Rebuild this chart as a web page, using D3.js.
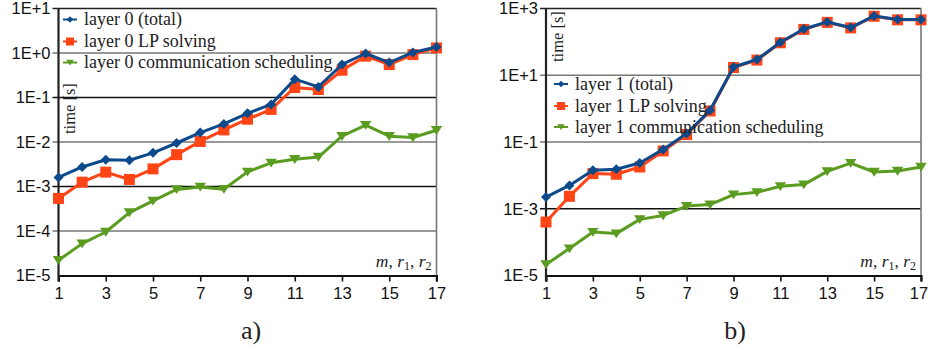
<!DOCTYPE html>
<html>
<head>
<meta charset="utf-8">
<script src="https://cdn.jsdelivr.net/npm/d3@7"></script>
<style>
  html, body { margin: 0; padding: 0; background: #fff; }
  svg { display: block; }
</style>
</head>
<body>
<svg id="chart" width="928" height="350"></svg>
<script>
// Problem size index (m, r1, r2 configurations)
const steps = d3.range(1, 18);
const xTicks = [1, 3, 5, 7, 9, 11, 13, 15, 17];

// Panel a) layer 0 timings [s]
const layer0Total = [1.6e-3, 2.75e-3, 4.0e-3, 3.9e-3, 5.7e-3, 9.5e-3, 1.63e-2, 2.55e-2, 4.4e-2, 7.0e-2, 0.258, 0.173, 0.552, 0.975, 0.61, 1.03, 1.37];
const layer0LP = [5.4e-4, 1.25e-3, 2.1e-3, 1.44e-3, 2.49e-3, 5.2e-3, 1.03e-2, 1.87e-2, 3.25e-2, 5.4e-2, 0.168, 0.151, 0.41, 0.85, 0.55, 0.92, 1.30];
const layer0Comm = [2.2e-5, 5.2e-5, 9.5e-5, 2.6e-4, 4.75e-4, 8.6e-4, 9.8e-4, 8.7e-4, 2.13e-3, 3.4e-3, 4.1e-3, 4.6e-3, 1.35e-2, 2.39e-2, 1.35e-2, 1.26e-2, 1.84e-2];
const yTicks0 = [1e-5, 1e-4, 1e-3, 1e-2, 1e-1, 1e0, 1e1];
const yLabels0 = ["1E-5", "1E-4", "1E-3", "1E-2", "1E-1", "1E+0", "1E+1"];

// Panel b) layer 1 timings [s]
const layer1Total = [2.24e-3, 5.0e-3, 1.42e-2, 1.52e-2, 2.34e-2, 6.0e-2, 0.179, 0.89, 17.7, 29.6, 97.7, 244, 396, 269, 600, 468, 468];
const layer1LP = [4.0e-4, 2.36e-3, 1.13e-2, 1.08e-2, 1.78e-2, 5.4e-2, 0.167, 0.85, 17.0, 28.5, 94, 236, 385, 262, 585, 458, 458];
const layer1Comm = [2.15e-5, 6.4e-5, 2.0e-4, 1.8e-4, 4.8e-4, 6.3e-4, 1.2e-3, 1.33e-3, 2.65e-3, 3.1e-3, 4.7e-3, 5.3e-3, 1.32e-2, 2.34e-2, 1.26e-2, 1.35e-2, 1.78e-2];
const yTicks1 = [1e-5, 1e-3, 1e-1, 1e1, 1e3];
const yLabels1 = ["1E-5", "1E-3", "1E-1", "1E+1", "1E+3"];

const seriesNames0 = ["layer 0 (total)", "layer 0 LP solving", "layer 0 communication scheduling"];
const seriesNames1 = ["layer 1 (total)", "layer 1 LP solving", "layer 1 communication scheduling"];

const BLUE = "#0d4a8b", ORANGE = "#ff4416", GREEN = "#5a9c1f";
const SANS = "'Liberation Sans', Arial, sans-serif";
const SERIF = "'Liberation Serif', 'Times New Roman', serif";

const svg = d3.select("#chart");

// marker shapes
function markerPath(kind, s) {
  if (kind === "diamond") return `M0,${-s}L${s},0L0,${s}L${-s},0Z`;
  if (kind === "square") return `M${-s},${-s}H${s}V${s}H${-s}Z`;
  // downward triangle
  return `M${-s * 1.1},${-s * 0.8}H${s * 1.1}L0,${s * 0.9}Z`;
}

function drawPanel(cfg) {
  const g = svg.append("g");
  const x = d3.scaleLinear().domain([1, 17]).range([cfg.x0, cfg.x1]);
  const y = d3.scaleLog().domain([cfg.yTicks[0], cfg.yTicks[cfg.yTicks.length - 1]]).range([cfg.yb, cfg.yt]);

  // horizontal gridlines (extend slightly left as tick marks)
  cfg.yTicks.forEach((t, i) => {
    if (i === 0) return;
    g.append("line")
      .attr("x1", cfg.x0 - 6).attr("x2", cfg.x1)
      .attr("y1", y(t)).attr("y2", y(t))
      .attr("stroke", cfg.gridColors[i]).attr("stroke-width", 1.6);
  });

  // right border
  g.append("line")
    .attr("x1", cfg.x1).attr("x2", cfg.x1)
    .attr("y1", cfg.yt).attr("y2", cfg.yb + 6)
    .attr("stroke", "#777").attr("stroke-width", 1.6);

  // y tick labels
  g.selectAll("text.ylab").data(cfg.yTicks).join("text")
    .attr("x", cfg.x0 - 8).attr("y", d => y(d))
    .attr("dy", "0.36em").attr("text-anchor", "end")
    .attr("font-family", SANS).attr("font-size", 16.5).attr("fill", "#111")
    .text((d, i) => cfg.yLabels[i]);

  // bottom axis
  const xAxis = d3.axisBottom(x).tickValues(xTicks).tickSize(6).tickPadding(6).tickFormat(d3.format("d"));
  const ax = g.append("g").attr("transform", `translate(0,${cfg.yb})`).call(xAxis);
  ax.select(".domain").attr("stroke", "#111").attr("stroke-width", 2);
  ax.selectAll(".tick line").attr("stroke", "#111").attr("stroke-width", 1.6);
  ax.selectAll(".tick text").attr("font-family", SANS).attr("font-size", 16.5).attr("fill", "#111")
    .attr("dx", d => (d === 17 && cfg.lastTickShift) ? cfg.lastTickShift : 0);

  // left axis line
  g.append("line")
    .attr("x1", cfg.x0).attr("x2", cfg.x0)
    .attr("y1", cfg.yt).attr("y2", cfg.yb + 6)
    .attr("stroke", "#222").attr("stroke-width", 2.2);

  // data series
  const line = d3.line().x((d, i) => x(steps[i])).y(d => y(d));
  const series = [
    { vals: cfg.comm, color: GREEN, kind: "tri", s: 5.2 },
    { vals: cfg.lp, color: ORANGE, kind: "square", s: 5.5 },
    { vals: cfg.total, color: BLUE, kind: "diamond", s: 5 }
  ];
  series.forEach(sr => {
    g.append("path").datum(sr.vals)
      .attr("d", line).attr("fill", "none")
      .attr("stroke", sr.color).attr("stroke-width", 3).attr("stroke-linejoin", "round");
    g.selectAll(null).data(sr.vals).join("path")
      .attr("transform", (d, i) => `translate(${x(steps[i])},${y(d)})`)
      .attr("d", markerPath(sr.kind, sr.s)).attr("fill", sr.color);
  });

  // legend
  const legend = [
    { name: cfg.names[0], color: BLUE, kind: "diamond", s: 3.3 },
    { name: cfg.names[1], color: ORANGE, kind: "square", s: 4 },
    { name: cfg.names[2], color: GREEN, kind: "tri", s: 3.4 }
  ];
  legend.forEach((l, i) => {
    const ly = cfg.legY[i];
    g.append("line").attr("x1", cfg.legX).attr("x2", cfg.legX + 14)
      .attr("y1", ly).attr("y2", ly).attr("stroke", l.color).attr("stroke-width", 2);
    g.append("path").attr("transform", `translate(${cfg.legX + 7},${ly})`)
      .attr("d", markerPath(l.kind, l.s)).attr("fill", l.color);
    g.append("text").attr("x", cfg.legX + 21).attr("y", ly).attr("dy", "0.32em")
      .attr("font-family", SERIF).attr("font-size", 18).attr("fill", "#222")
      .text(l.name);
  });

  // vertical axis title
  g.append("text")
    .attr("transform", `translate(${cfg.titleX},${cfg.titleY}) rotate(-90)`)
    .attr("font-family", SERIF).attr("font-size", 16.5).attr("fill", "#222")
    .text("time [s]");

  // x axis title (math)
  const mt = g.append("text")
    .attr("x", cfg.x1 - 5).attr("y", cfg.yb - 9).attr("text-anchor", "end")
    .attr("font-family", SERIF).attr("font-size", 17.5).attr("fill", "#222");
  mt.append("tspan").attr("font-style", "italic").text("m");
  mt.append("tspan").text(", ");
  mt.append("tspan").attr("font-style", "italic").text("r");
  mt.append("tspan").attr("font-size", 12).attr("dy", 3).text("1");
  mt.append("tspan").attr("dy", -3).text(", ");
  mt.append("tspan").attr("font-style", "italic").text("r");
  mt.append("tspan").attr("font-size", 12).attr("dy", 3).text("2");

  // panel letter
  g.append("text")
    .attr("x", cfg.letterX).attr("y", 339).attr("text-anchor", "middle")
    .attr("font-family", SERIF).attr("font-size", 26).attr("fill", "#222")
    .text(cfg.letter);
}

drawPanel({
  x0: 58.5, x1: 436.5, yt: 8.5, yb: 275.5,
  yTicks: yTicks0, yLabels: yLabels0,
  gridColors: ["#111", "#777", "#111", "#777", "#111", "#777", "#222"],
  total: layer0Total, lp: layer0LP, comm: layer0Comm,
  names: seriesNames0,
  legX: 63, legY: [19.5, 41.5, 62.5],
  titleX: 75, titleY: 134,
  letter: "a)", letterX: 251
});

drawPanel({
  x0: 546, x1: 921, yt: 8.5, yb: 275.5,
  yTicks: yTicks1, yLabels: yLabels1,
  gridColors: ["#111", "#111", "#777", "#777", "#222"],
  total: layer1Total, lp: layer1LP, comm: layer1Comm,
  names: seriesNames1,
  legX: 554, legY: [84, 106, 127],
  titleX: 563, titleY: 62,
  letter: "b)", letterX: 735,
  lastTickShift: -2.5
});
</script>
</body>
</html>
